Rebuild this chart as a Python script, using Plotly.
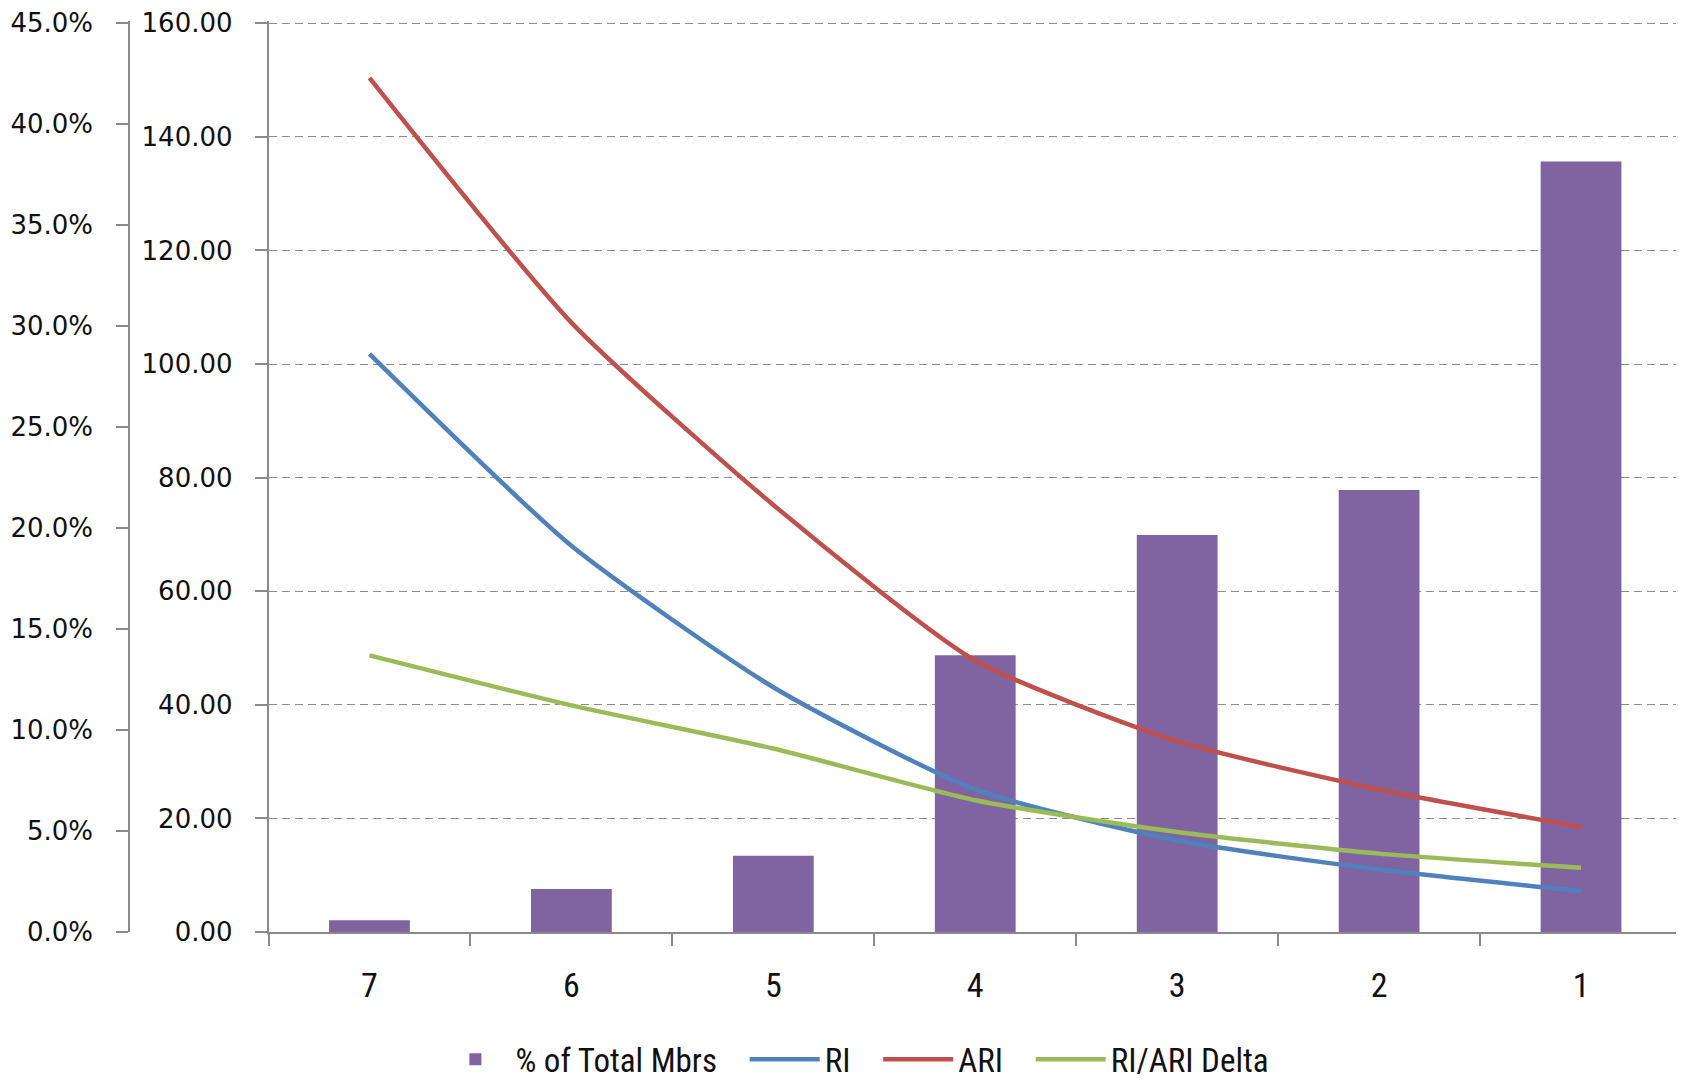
import plotly.graph_objects as go

# ---- data ----
categories = ["7", "6", "5", "4", "3", "2", "1"]
pct_total_mbrs = [0.0058, 0.0213, 0.0377, 0.1371, 0.1966, 0.2189, 0.3815]
ri = [101.8, 68.0, 43.1, 25.1, 16.1, 11.0, 7.2]
ari = [150.4, 107.3, 75.2, 47.8, 33.6, 25.1, 18.5]
ri_ari_delta = [48.7, 39.9, 32.3, 23.2, 17.6, 13.8, 11.3]
series_names = ["% of Total Mbrs", "RI", "ARI", "RI/ARI Delta"]

pct_ticks = [0.0, 0.05, 0.10, 0.15, 0.20, 0.25, 0.30, 0.35, 0.40, 0.45]
value_ticks = [0, 20, 40, 60, 80, 100, 120, 140, 160]

# page body has an 8px margin, so the figure is placed 8px in from the window corner
OFF = 8
W, H = 1684 - OFF, 1083 - OFF
EXT = 0.4  # small headroom so the top gridline is drawn
plot_top, plot_bot = 23.5 - OFF, 932 - OFF
MB = H - plot_bot
MT = plot_top - EXT / 160 * (plot_bot - plot_top)
ML, MR = 0, 2
plot_w = W - ML - MR

axis_col = "#8a8a8a"
tick_font = dict(family="DejaVu Sans, Verdana, sans-serif", size=26, color="#111111")
narrow_font = dict(family="Liberation Sans Narrow, Arial Narrow, Roboto Condensed, Liberation Sans, sans-serif",
                   size=34, color="#111111")
legend_font = dict(narrow_font, size=33)
pad = "\u00a0\u00a0\u00a0"

fig = go.Figure()
fig.add_trace(go.Bar(x=categories, y=pct_total_mbrs, name=series_names[0] + pad, yaxis="y",
                     marker=dict(color="#8064A2", line=dict(width=0)), width=0.4))
fig.add_trace(go.Scatter(x=categories, y=ri, name=series_names[1] + pad, yaxis="y2", mode="lines",
                         line=dict(color="#4F81BD", width=4.5, shape="spline", smoothing=0.6)))
fig.add_trace(go.Scatter(x=categories, y=ari, name=series_names[2] + pad, yaxis="y2", mode="lines",
                         line=dict(color="#C0504D", width=4.5, shape="spline", smoothing=0.6)))
fig.add_trace(go.Scatter(x=categories, y=ri_ari_delta, name=series_names[3], yaxis="y2", mode="lines",
                         line=dict(color="#9BBB59", width=4.5, shape="spline", smoothing=0.6)))

fig.update_layout(
    width=W, height=H,
    margin=dict(l=ML, r=MR, t=MT, b=MB, autoexpand=False),
    paper_bgcolor="white", plot_bgcolor="white",
    showlegend=True,
    legend=dict(orientation="h", x=(796 * 1.074 - OFF) / plot_w, xanchor="center",
                y=-(986 * 1.074 - 932) / (932 - 23.5), yanchor="middle",
                font=legend_font, itemwidth=70, traceorder="normal"),
    xaxis=dict(domain=[(268.5 - OFF) / plot_w, 1], type="category", categoryorder="array",
               categoryarray=categories,
               showline=True, linecolor=axis_col, linewidth=1.5, automargin=False,
               ticks="outside", tickson="boundaries", ticklen=12, tickcolor=axis_col, tickwidth=1.5,
               showgrid=False, zeroline=False, tickfont=narrow_font, ticklabelstandoff=22),
    yaxis=dict(anchor="free", position=(129 - OFF) / plot_w, side="left",
               range=[0, 0.45 * (160 + EXT) / 160],
               tickvals=pct_ticks, tickformat=".1%", showline=True, linecolor=axis_col, linewidth=1.5,
               ticks="outside", ticklen=12, tickcolor=axis_col, tickwidth=1.5, automargin=False,
               ticklabeloverflow="allow",
               showgrid=False, zeroline=False, tickfont=tick_font, ticklabelstandoff=18),
    yaxis2=dict(overlaying="y", anchor="x", side="left", range=[0, 160 + EXT],
                tickvals=value_ticks, tickformat=".2f", showline=True, linecolor=axis_col, linewidth=1.5,
                ticks="outside", ticklen=12, tickcolor=axis_col, tickwidth=1.5, automargin=False,
                ticklabeloverflow="allow",
                showgrid=True, gridcolor="#8c8c8c", gridwidth=1.3, griddash="8px,5px",
                zeroline=False, tickfont=tick_font, ticklabelstandoff=17),
)

fig.write_html("out.html")
